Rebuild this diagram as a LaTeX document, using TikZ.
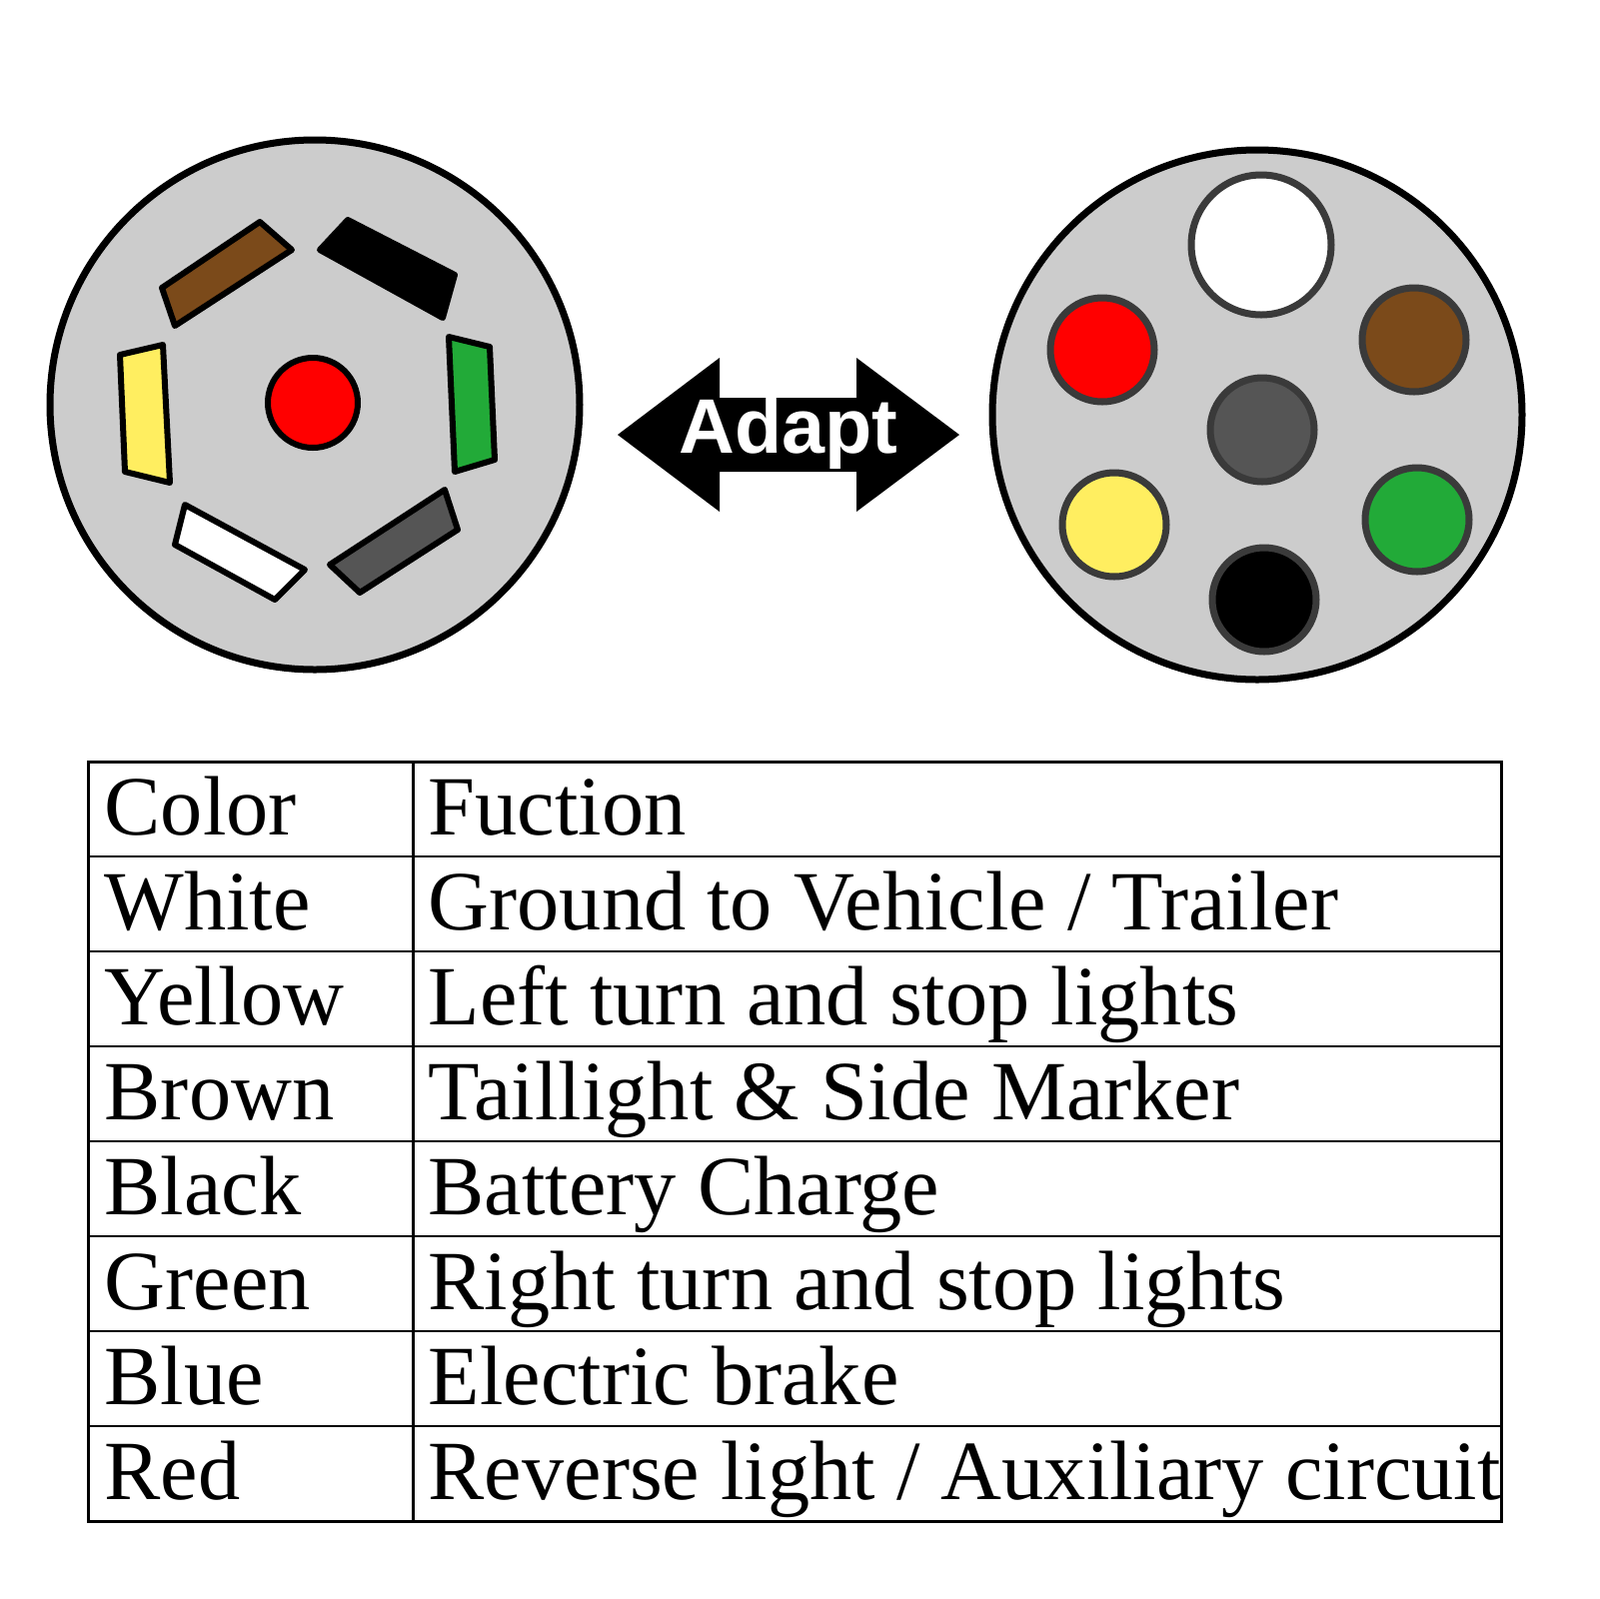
\documentclass[tikz,border=0pt]{standalone}
\usepackage{fontspec}
\setmainfont{Liberation Serif}
\newfontfamily\arialb{Liberation Sans}
\definecolor{plug}{HTML}{CCCCCC}
\definecolor{pbrown}{HTML}{7B4A1A}
\definecolor{pgreen}{HTML}{22AA38}
\definecolor{pyellow}{HTML}{FFEE60}
\definecolor{pgray}{HTML}{555555}
\definecolor{pred}{HTML}{FF0000}
\definecolor{rim}{HTML}{3A3A3A}
\tikzset{blade/.style={draw=black,line width=0.6mm,line join=round},
 pin/.style={circle,draw=rim,line width=0.7mm,minimum size=10.4mm,inner sep=0},
 cell/.style={anchor=base west,inner sep=0,font=\fontsize{24}{26}\selectfont}}
\begin{document}
\begin{tikzpicture}[x=0.1mm,y=-0.1mm]
\useasboundingbox (0,0) rectangle (1600,1600);
% left plug
\node[circle,draw=black,line width=0.7mm,fill=plug,minimum size=53mm] (L) at (315,405) {};
\draw[blade,fill=pbrown] (162,288)--(260,222)--(292,250)--(175,326)--cycle;
\draw[blade,fill=black] (320,250)--(348,220)--(455,275)--(443,318)--cycle;
\draw[blade,fill=pgreen] (449,337)--(490,347)--(495,460)--(455,472)--cycle;
\draw[blade,fill=pgray] (330,565)--(445,490)--(458,530)--(360,593)--cycle;
\draw[blade,fill=white] (175,545)--(185,505)--(305,570)--(275,600)--cycle;
\draw[blade,fill=pyellow] (120,355)--(163,345)--(170,483)--(125,472)--cycle;
\node[circle,draw=black,line width=0.6mm,fill=pred,minimum size=9mm,inner sep=0] (Lc) at (313,403) {};
% right plug
\node[circle,draw=black,line width=0.7mm,fill=plug,minimum size=53mm] (R) at (1258,415) {};
\node[pin,fill=white,minimum size=14mm] (pw) at (1262,245) {};
\node[pin,fill=pred] (pr) at (1103,350) {};
\node[pin,fill=pbrown] (pb) at (1415,340) {};
\node[pin,fill=pgray] (pg) at (1263,430) {};
\node[pin,fill=pyellow] (py) at (1115,525) {};
\node[pin,fill=pgreen] (pgr) at (1418,520) {};
\node[pin,fill=black] (pk) at (1265,600) {};
% arrow
\fill (618,435)--(720,358)--(720,398)--(857,398)--(857,358)--(960,435)--(857,512)--(857,472)--(720,472)--(720,512)--cycle;
\node[text=white,font=\arialb\bfseries\fontsize{22}{24}\selectfont] (ad) at (789,433) {Adapt};
% table
\draw[line width=0.3mm] (88,762) rectangle (1502,1522);
\draw[line width=0.3mm] (413,762)--(413,1522);
\foreach \i in {1,...,7}{\draw[line width=0.2mm] (88,762+95*\i)--(1502,762+95*\i);}
\foreach \c/\f [count=\i from 0] in {Color/{Fuction},White/{Ground to Vehicle / Trailer},Yellow/{Left turn and stop lights},Brown/{Taillight \& Side Marker},Black/{Battery Charge},Green/{Right turn and stop lights},Blue/{Electric brake},Red/{Reverse light / Auxiliary circuit}}{
 \node[cell] (c\i) at (104,835+95*\i) {\c};
 \node[cell] (f\i) at (428,835+95*\i) {\f};
}
\end{tikzpicture}
\end{document}
